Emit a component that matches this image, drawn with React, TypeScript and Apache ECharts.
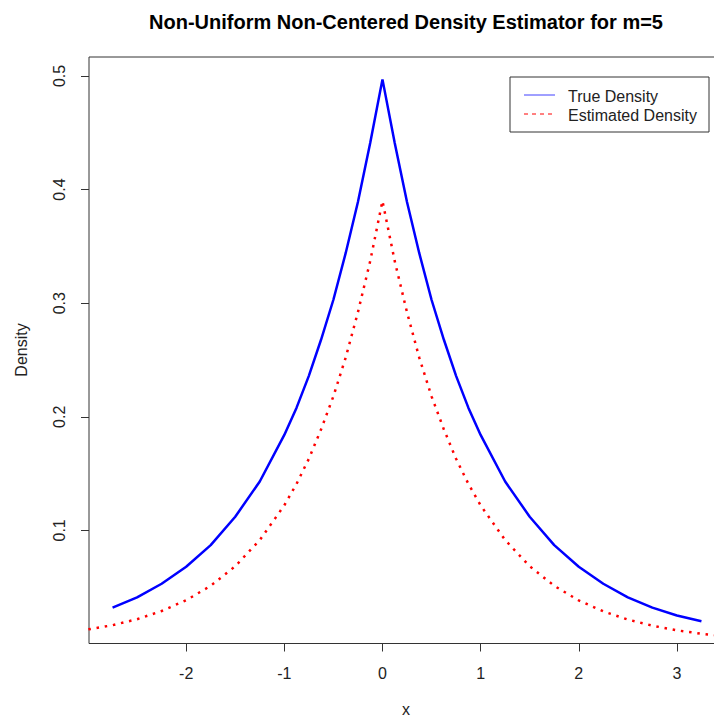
import React, { useEffect, useRef } from "react";
import * as echarts from "echarts";

const titleText = "Non-Uniform Non-Centered Density Estimator for m=5";
const xTicks = [-2, -1, 0, 1, 2, 3];
const yTicks = [0.1, 0.2, 0.3, 0.4, 0.5];
const legendNames = ["True Density", "Estimated Density"];

const trueX = [-2.75, -2.5, -2.25, -2, -1.75, -1.5, -1.25, -1, -0.875, -0.75, -0.625, -0.5, -0.375, -0.25, -0.125, 0, 0.125, 0.25, 0.375, 0.5, 0.625, 0.75, 0.875, 1, 1.25, 1.5, 1.75, 2, 2.25, 2.5, 2.75, 3, 3.25];
const trueY = [0.032, 0.041, 0.053, 0.068, 0.087, 0.112, 0.143, 0.184, 0.208, 0.236, 0.268, 0.303, 0.344, 0.389, 0.441, 0.497, 0.441, 0.389, 0.344, 0.303, 0.268, 0.236, 0.208, 0.184, 0.143, 0.112, 0.087, 0.068, 0.053, 0.041, 0.032, 0.025, 0.02];

const estX = [-3.5, -3.25, -3, -2.75, -2.5, -2.25, -2, -1.75, -1.5, -1.25, -1, -0.875, -0.75, -0.625, -0.5, -0.375, -0.25, -0.125, 0, 0.125, 0.25, 0.375, 0.5, 0.625, 0.75, 0.875, 1, 1.25, 1.5, 1.75, 2, 2.25, 2.5, 2.75, 3, 3.25, 3.5];
const estY = [0.0075, 0.0098, 0.0128, 0.0165, 0.0218, 0.029, 0.0385, 0.0512, 0.0684, 0.0915, 0.122, 0.141, 0.163, 0.189, 0.218, 0.252, 0.292, 0.337, 0.39, 0.337, 0.292, 0.252, 0.218, 0.189, 0.163, 0.141, 0.122, 0.0915, 0.0684, 0.0512, 0.0383, 0.0287, 0.0215, 0.0161, 0.012, 0.009, 0.0067];

const FONT = "'Liberation Sans', Arial, sans-serif";

export default function App() {
  const ref = useRef<HTMLDivElement>(null);
  useEffect(() => {
    if (!ref.current) return;
    const chart = echarts.init(ref.current, null, { renderer: "svg" });
    chart.setOption({
      animation: false,
      backgroundColor: "#ffffff",
      grid: {
        left: 89,
        top: 57,
        right: 15,
        bottom: 74.5,
        show: true,
        borderColor: "#333",
        borderWidth: 1,
        containLabel: false,
      },
      xAxis: {
        type: "value",
        min: -2.99,
        max: 3.49,
        splitLine: { show: false },
        axisLine: { show: false, onZero: false },
        axisTick: { show: true, length: 8, lineStyle: { color: "#333" }, customValues: xTicks },
        axisLabel: {
          customValues: xTicks,
          margin: 22,
          fontFamily: FONT,
          fontSize: 16,
          color: "#222",
          formatter: (v: number) => String(v),
        },
      },
      yAxis: {
        type: "value",
        min: 0.0004,
        max: 0.5167,
        splitLine: { show: false },
        axisLine: { show: false, onZero: false },
        axisTick: { show: true, length: 8, lineStyle: { color: "#333" }, customValues: yTicks },
        axisLabel: {
          customValues: yTicks,
          rotate: 90,
          margin: 22,
          fontFamily: FONT,
          fontSize: 16,
          color: "#222",
          formatter: (v: number) => String(v),
        },
      },
      series: [
        {
          type: "line",
          name: legendNames[0],
          data: trueX.map((x, i) => [x, trueY[i]]),
          showSymbol: false,
          lineStyle: { color: "#0000ff", width: 2.5 },
          clip: true,
        },
        {
          type: "line",
          name: legendNames[1],
          data: estX.map((x, i) => [x, estY[i]]),
          showSymbol: false,
          lineStyle: { color: "#ff0000", width: 2.5, type: [2.5, 5.8], cap: "butt" },
          clip: true,
        },
      ],
      graphic: [
        {
          type: "text",
          x: 406,
          y: 22,
          style: {
            text: titleText,
            font: `bold 20px ${FONT}`,
            fill: "#000",
            align: "center",
            verticalAlign: "middle",
          },
        },
        {
          type: "text",
          x: 406,
          y: 709,
          style: { text: "x", font: `16px ${FONT}`, fill: "#222", align: "center", verticalAlign: "middle" },
        },
        {
          type: "text",
          x: 21,
          y: 350,
          rotation: Math.PI / 2,
          style: { text: "Density", font: `16px ${FONT}`, fill: "#222", align: "center", verticalAlign: "middle" },
        },
        {
          type: "rect",
          shape: { x: 510, y: 77, width: 199, height: 55 },
          style: { fill: "#fff", stroke: "#333", lineWidth: 1 },
        },
        {
          type: "line",
          shape: { x1: 524, y1: 95, x2: 555, y2: 95 },
          style: { stroke: "#4040ff", lineWidth: 1 },
        },
        {
          type: "line",
          shape: { x1: 524, y1: 114, x2: 555, y2: 114 },
          style: { stroke: "#ff0000", lineWidth: 1, lineDash: [4, 4] },
        },
        {
          type: "text",
          x: 568,
          y: 96,
          style: { text: legendNames[0], font: `16px ${FONT}`, fill: "#222", align: "left", verticalAlign: "middle" },
        },
        {
          type: "text",
          x: 568,
          y: 115,
          style: { text: legendNames[1], font: `16px ${FONT}`, fill: "#222", align: "left", verticalAlign: "middle" },
        },
      ],
    });
    return () => chart.dispose();
  }, []);
  return (
    <div style={{ position: "absolute", left: 0, top: 0, width: 714, height: 718, overflow: "hidden" }}>
      <div ref={ref} style={{ width: 740, height: 718 }} />
    </div>
  );
}
